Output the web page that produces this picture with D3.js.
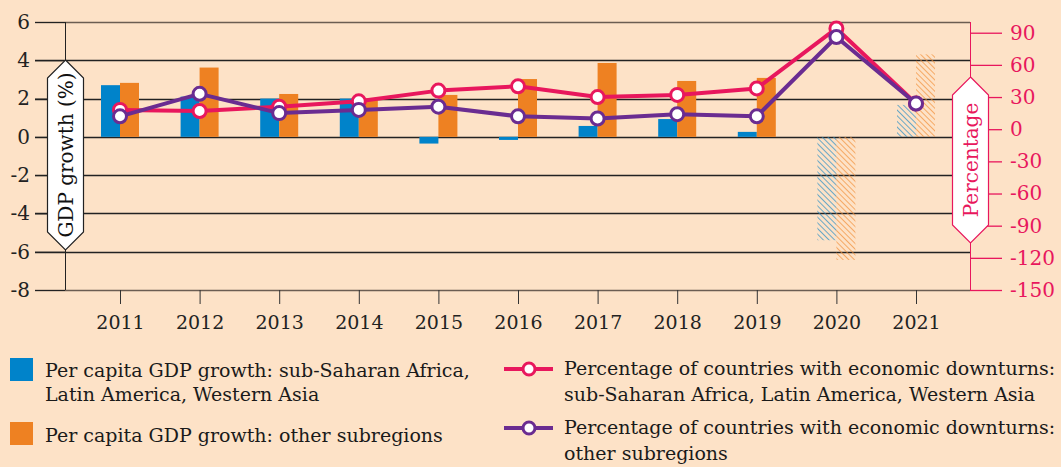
<!DOCTYPE html>
<html><head><meta charset="utf-8">
<script src="https://cdn.jsdelivr.net/npm/d3@7"></script>
<style>
html,body{margin:0;padding:0;background:#fde2c7;}
svg{display:block;}
text{font-family:"DejaVu Serif","Liberation Serif",serif;}
</style></head><body>
<svg id="chart" width="1061" height="467"></svg>
<script>
const years = ["2011","2012","2013","2014","2015","2016","2017","2018","2019","2020","2021"];
const gdpSSA = [2.7, 2.1, 2.0, 2.0, -0.35, -0.16, 0.57, 0.93, 0.26, -5.4, 1.67];
const gdpOther = [2.82, 3.62, 2.24, 2.0, 2.19, 3.02, 3.86, 2.92, 3.08, -6.43, 4.31];
const pctSSA = [18, 17, 21, 26, 36, 40, 30, 32, 38, 94, 24];
const pctOther = [12, 33, 15, 18, 21, 12, 10, 14, 12, 86, 24];
const leftTicks = [6, 4, 2, 0, -2, -4, -6, -8];
const rightTicks = [90, 60, 30, 0, -30, -60, -90, -120, -150];
const projected = ["2020", "2021"];
const legendLabels = [
  ["Per capita GDP growth: sub-Saharan Africa,", "Latin America, Western Asia"],
  ["Per capita GDP growth: other subregions"],
  ["Percentage of countries with economic downturns:", "sub-Saharan Africa, Latin America, Western Asia"],
  ["Percentage of countries with economic downturns:", "other subregions"]
];

const C = {bg:"#fde2c7", blue:"#0083ca", orange:"#ee8122", pink:"#e8175d", purple:"#6a2c91", grid:"#222"};
const svg = d3.select("#chart");
const pTop = 22, pBottom = 290, pLeft = 65, pRight = 970;

const x = d3.scalePoint().domain(years).range([120, 916]);
const bw = 19;
const yL = d3.scaleLinear().domain([-8, 6]).range([pBottom, pTop]);
const yR = d3.scaleLinear().domain([-150, 100]).range([pBottom, pTop]);
const fmt = d => String(d);

const defs = svg.append("defs");
function hatch(id, color){
  const p = defs.append("pattern").attr("id", id).attr("patternUnits","userSpaceOnUse")
    .attr("width", 4).attr("height", 4).attr("patternTransform","rotate(-45)");
  p.append("line").attr("x1",0).attr("y1",0).attr("x2",0).attr("y2",4)
    .attr("stroke", color).attr("stroke-width", 1.4);
}
hatch("hBlue", "#2a8fc6");
hatch("hOrange", "#f2913a");

// gridlines
svg.append("g").selectAll("line").data(leftTicks).join("line")
  .attr("x1", 35).attr("x2", pRight)
  .attr("y1", d => Math.round(yL(d)) + 0.5).attr("y2", d => Math.round(yL(d)) + 0.5)
  .attr("stroke", (d) => (d === 6 || d === -8) ? "#6b5d52" : C.grid).attr("stroke-width", 1.3);

// left axis
const gL = svg.append("g").attr("transform", `translate(${pLeft},0)`)
  .call(d3.axisLeft(yL).tickValues(leftTicks).tickSize(30).tickPadding(5).tickFormat(fmt));
gL.select(".domain").attr("stroke", "#222").attr("d", `M0.5,${pTop}V${pBottom}`);
gL.selectAll(".tick line").attr("stroke", "#222");
gL.selectAll(".tick text").attr("font-size", 20).attr("fill", "#222").attr("font-family", '"DejaVu Serif",serif');

// right axis
const gR = svg.append("g").attr("transform", `translate(${pRight},0)`)
  .call(d3.axisRight(yR).tickValues(rightTicks).tickSize(32).tickPadding(8).tickFormat(fmt));
gR.select(".domain").attr("stroke", C.pink).attr("d", `M0.5,${pTop}V${pBottom}`);
gR.selectAll(".tick line").attr("stroke", C.pink).attr("stroke-width", 1.3);
gR.selectAll(".tick text").attr("font-size", 20).attr("fill", C.pink).attr("font-family", '"DejaVu Serif",serif');

// bottom axis
const gB = svg.append("g").attr("transform", `translate(0,${pBottom})`)
  .call(d3.axisBottom(x).tickSize(14).tickPadding(12));
gB.select(".domain").remove();
gB.selectAll(".tick line").attr("stroke", "#333");
gB.selectAll(".tick text").attr("font-size", 19).attr("fill", "#222").attr("font-family", '"DejaVu Serif",serif');

// bars
function bars(data, color, hid, offset){
  svg.append("g").selectAll("rect").data(years.map((y,i)=>({y, v:data[i]}))).join("rect")
    .attr("x", d => x(d.y) + offset)
    .attr("width", bw)
    .attr("y", d => yL(Math.max(0, d.v)))
    .attr("height", d => Math.abs(yL(d.v) - yL(0)))
    .attr("fill", d => projected.includes(d.y) ? `url(#${hid})` : color);
}
bars(gdpSSA, C.blue, "hBlue", -bw);
bars(gdpOther, C.orange, "hOrange", 0);

// lines
function series(data, color){
  const pts = years.map((y,i)=>[x(y), yR(data[i])]);
  svg.append("path").attr("d", d3.line()(pts)).attr("fill","none")
    .attr("stroke", color).attr("stroke-width", 4).attr("stroke-linejoin","round");
  svg.append("g").selectAll("circle").data(pts).join("circle")
    .attr("cx", d=>d[0]).attr("cy", d=>d[1]).attr("r", 6.5)
    .attr("fill", "#fff").attr("stroke", color).attr("stroke-width", 3);
}
series(pctSSA, C.pink);
series(pctOther, C.purple);

// badges
function badge(cx, y1, y2, w, stroke, label, color){
  const h = w/2;
  const pts = [[cx, y1],[cx+h, y1+h],[cx+h, y2-h],[cx, y2],[cx-h, y2-h],[cx-h, y1+h]];
  svg.append("path").attr("d", "M" + pts.join("L") + "Z").attr("fill","#fff")
    .attr("stroke", stroke).attr("stroke-width", 1.2);
  svg.append("text").attr("transform", `translate(${cx+7},${(y1+y2)/2}) rotate(-90)`)
    .attr("text-anchor","middle").attr("font-size", 20).attr("fill", color).text(label);
}
badge(65.5, 60, 250, 36, "#222", "GDP growth (%)", "#111");
badge(970.5, 77, 243, 36, C.pink, "Percentage", C.pink);

// legend
const lg = svg.append("g");
lg.append("rect").attr("x",10).attr("y",358).attr("width",23).attr("height",23).attr("fill",C.blue);
lg.append("rect").attr("x",10).attr("y",422).attr("width",23).attr("height",23).attr("fill",C.orange);
function ltext(xp, ys, lines){
  lines.forEach((t,i)=> lg.append("text").attr("x",xp).attr("y",ys[i]).attr("font-size",19).attr("fill","#1a1a1a").text(t));
}
ltext(45, [377, 401], legendLabels[0]);
ltext(45, [442], legendLabels[1]);
function lline(yp, color){
  lg.append("line").attr("x1",504).attr("x2",553).attr("y1",yp).attr("y2",yp).attr("stroke",color).attr("stroke-width",4);
  lg.append("circle").attr("cx",529).attr("cy",yp).attr("r",6).attr("fill","#fff").attr("stroke",color).attr("stroke-width",3);
}
lline(369, C.pink);
lline(428, C.purple);
ltext(564, [375, 401], legendLabels[2]);
ltext(564, [434, 460], legendLabels[3]);
</script></body></html>
